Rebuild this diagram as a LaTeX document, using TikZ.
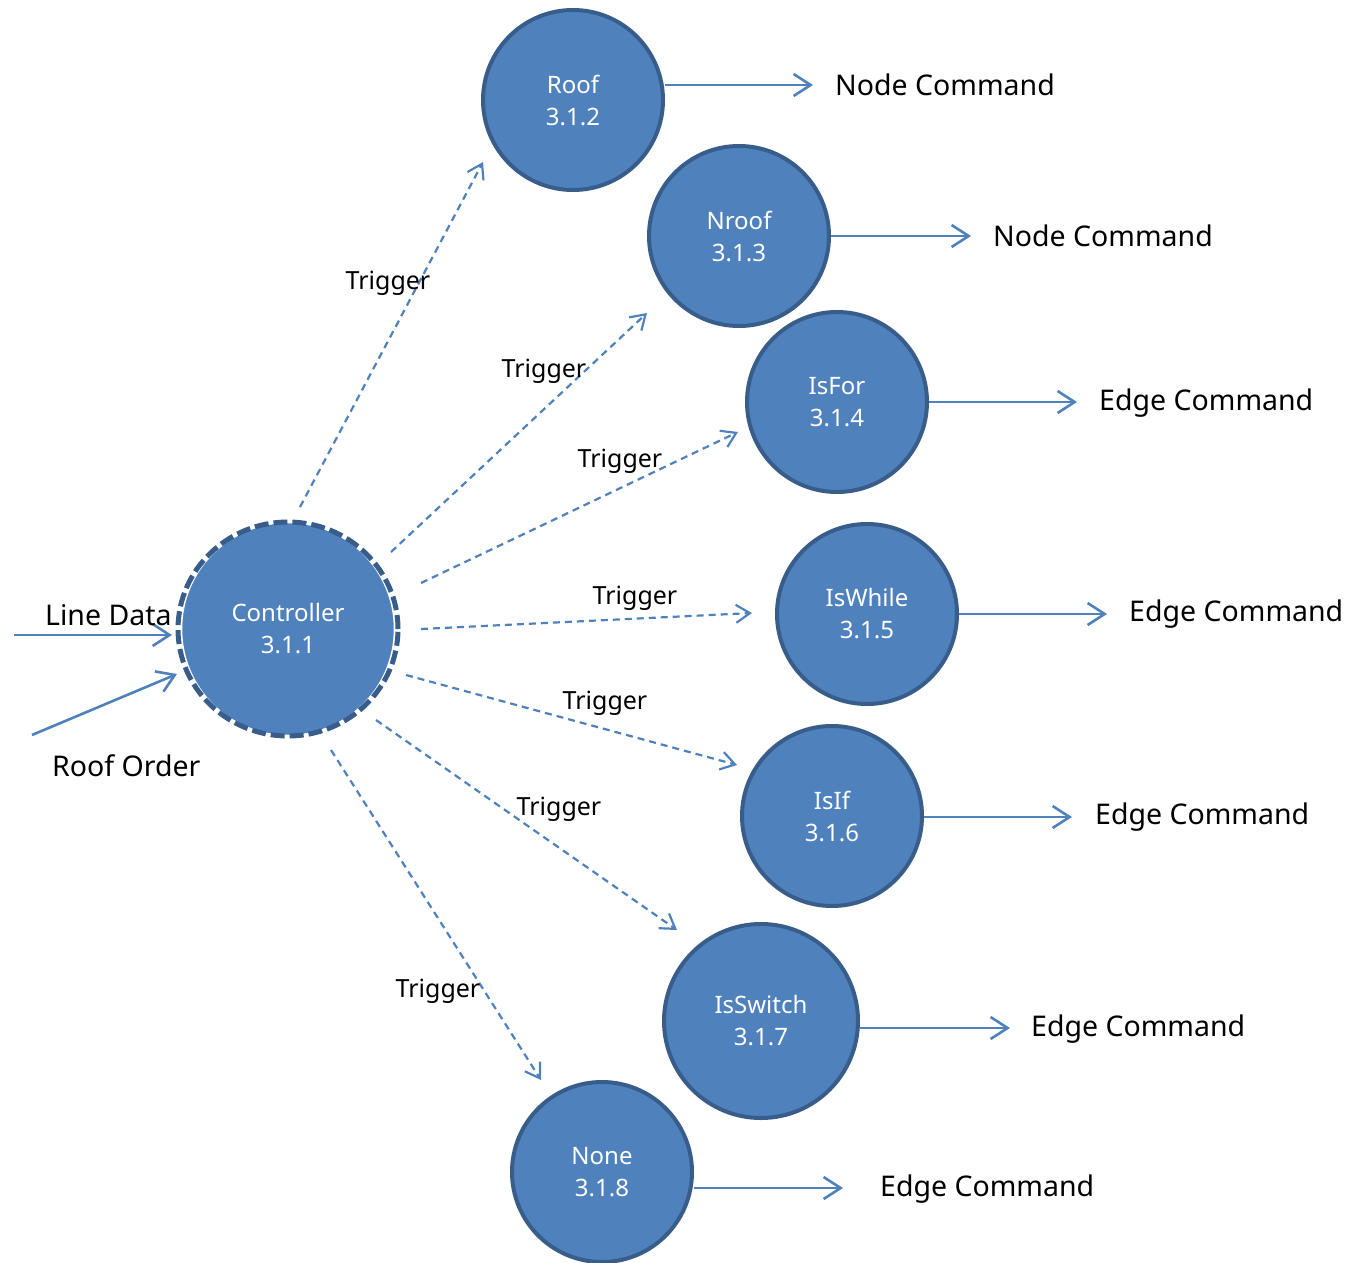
\documentclass[tikz,border=0pt]{standalone}
\usepackage{fontspec}
\setmainfont{Noto Sans}
\usetikzlibrary{arrows.meta}
\definecolor{procfill}{HTML}{4F81BD}
\definecolor{procline}{HTML}{385D8A}
\tikzset{
  proc/.style={circle, fill=procfill, draw=procline, line width=4pt, inner sep=0pt,
    minimum size=180pt, text=white, align=center, font=\fontsize{24}{32}\selectfont},
  flow/.style={draw=procfill, line width=2.6pt, -{Straight Barb[length=17pt,width=22pt,line width=2.6pt]}},
  trig/.style={draw=procfill, line width=2.2pt, dash pattern=on 7pt off 5pt,
    -{Straight Barb[length=14pt,width=18pt,line width=2.2pt,sep=0pt]}},
  lbl/.style={anchor=west, inner sep=0pt, font=\fontsize{28.5}{32}\selectfont},
  trglbl/.style={inner sep=0pt, font=\fontsize{25}{30}\selectfont}
}
\begin{document}
\begin{tikzpicture}[x=1pt, y=-1pt]
\useasboundingbox (0,0) rectangle (1352,1263);

% controller: filled disc, white ring, dashed outline on top
\node[proc, minimum size=216pt, draw=white, line width=4.5pt] (ctrl) at (288,629) {Controller\\3.1.1};
\draw[procline, line width=5pt, dash pattern=on 14pt off 5pt] (ctrl.center) ellipse (110pt and 107pt);

% processes
\node[proc] (roof)  at (573,100)  {Roof\\3.1.2};
\node[proc] (nroof) at (739,236)  {Nroof\\3.1.3};
\node[proc] (isfor) at (837,402)  {IsFor\\3.1.4};
\node[proc] (iswhile) at (867,614) {IsWhile\\3.1.5};
\node[proc] (isif)  at (832,816)  {IsIf\\3.1.6};
\node[proc, minimum size=194pt] (isswitch) at (761,1021) {IsSwitch\\3.1.7};
\node[proc] (none)  at (602,1172) {None\\3.1.8};

% output labels
\node[lbl] (o1) at (835,85)   {Node Command};
\node[lbl] (o2) at (993,236)  {Node Command};
\node[lbl] (o3) at (1099,403) {Edge Command};
\node[lbl] (o4) at (1129,614) {Edge Command};
\node[lbl] (o5) at (1095,817) {Edge Command};
\node[lbl] (o6) at (1031,1029) {Edge Command};
\node[lbl] (o7) at (880,1189) {Edge Command};

% output flows
\draw[flow] (roof.east |- 0,85) -- (813,85);
\draw[flow] (nroof.east) -- (971,236);
\draw[flow] (isfor.east) -- (1077,402);
\draw[flow] (iswhile.east) -- (1107,614);
\draw[flow] (isif.east |- 0,817) -- (1072,817);
\draw[flow] (isswitch.east |- 0,1028) -- (1010,1028);
\draw[flow] (none.east |- 0,1188) -- (843,1188);

% inputs
\coordinate (ldsrc) at (14,635);
\coordinate (rosrc) at (32,735);
\coordinate (ldend) at (172,635);
\coordinate (roend) at (177,674);
\draw[flow] (ldsrc) -- (ldend);
\draw[flow] (rosrc) -- (roend);
\node[lbl] (ld) at (45,615) {Line Data};
\node[lbl] (ro) at (52,766) {Roof Order};

% triggers
\coordinate (s1) at (300,507); \coordinate (e1) at (483,162);
\coordinate (s2) at (391,552); \coordinate (e2) at (647,313);
\coordinate (s3) at (421,583); \coordinate (e3) at (738,432);
\coordinate (s4) at (421,629); \coordinate (e4) at (752,613);
\coordinate (s5) at (406,675); \coordinate (e5) at (737,765);
\coordinate (s6) at (376,720); \coordinate (e6) at (677,930);
\coordinate (s7) at (331,750); \coordinate (e7) at (541,1080);
\foreach \i in {1,...,7} { \draw[trig] (s\i) -- (e\i); }

\node[trglbl] (t1) at (388,283) {Trigger};
\node[trglbl] (t2) at (544,371) {Trigger};
\node[trglbl] (t3) at (620,461) {Trigger};
\node[trglbl] (t4) at (635,598) {Trigger};
\node[trglbl] (t5) at (605,703) {Trigger};
\node[trglbl] (t6) at (559,809) {Trigger};
\node[trglbl] (t7) at (438,991) {Trigger};
\end{tikzpicture}
\end{document}
